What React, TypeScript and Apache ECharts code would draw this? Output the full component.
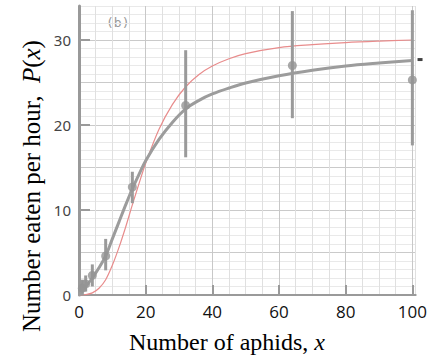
import { useEffect, useRef } from 'react';
import * as echarts from 'echarts';

// Smooth curves (x = number of aphids, y = number eaten per hour)
const curveX = [0, 2, 4, 6, 8, 10, 12, 14, 16, 18, 20, 24, 28, 32, 36, 40, 45, 50, 60, 70, 80, 90, 100];
const fittedCurve = [0, 1.0, 2.0, 3.2, 4.6, 6.6, 8.6, 10.6, 12.5, 14.2, 15.8, 18.3, 20.3, 21.9, 22.9, 23.65, 24.35, 24.95, 25.8, 26.45, 26.95, 27.3, 27.6];
const modelCurve = [0, 0.05, 0.25, 0.8, 1.8, 3.5, 5.6, 8.0, 10.6, 13.1, 15.5, 19.5, 22.4, 24.5, 25.95, 26.95, 27.8, 28.4, 29.1, 29.45, 29.7, 29.87, 30.0];

// Observed points with error bars
const aphidCounts = [1, 2, 4, 8, 16, 32, 64, 100];
const eatenMean = [0.8, 1.3, 2.3, 4.6, 12.7, 22.3, 27.0, 25.3];
const eatenLow = [0.0, 0.4, 1.0, 2.9, 10.8, 16.2, 20.8, 17.6];
const eatenHigh = [1.8, 2.3, 3.6, 6.6, 14.5, 28.8, 33.4, 33.5];

// Arrow tip at the end of the fitted curve
const curveTip = [[102.3, 27.7]];

// Axis ticks and labels
const xTickLabels = [0, 20, 40, 60, 80, 100];
const xTickMarks = [20, 40, 60, 80, 100];
const yTickLabels = [0, 10, 20, 30];
const yTickMarks = [10, 20, 30];

const xTitle = 'Number of aphids, {i|x}';
const yTitle = 'Number eaten per hour,  {i|P}({i|x})';
const panelTag = '(b)';

export default function App() {
  const ref = useRef<HTMLDivElement>(null);

  useEffect(() => {
    if (!ref.current) return;
    const chart = echarts.init(ref.current, null, { renderer: 'svg' });
    const axisGray = '#9a9a9a';
    const X_MIN = 0, X_MAX = 101, Y_MIN = 0, Y_MAX = 34;
    const serif = 'Liberation Serif';
    const option: any = {
      animation: false,
      grid: { left: 79, right: 26.3, top: 6, bottom: 68, containLabel: false },
      graphic: [
        {
          type: 'text',
          left: 106,
          top: 16,
          style: { text: panelTag, fill: '#9a9a9a', font: '13px "DejaVu Sans Mono"' },
        },
        {
          type: 'text',
          x: 227,
          y: 342,
          style: {
            text: xTitle,
            fill: '#000',
            font: `24px "${serif}"`,
            align: 'center',
            verticalAlign: 'middle',
            rich: { i: { fontStyle: 'italic', fontFamily: serif, fontSize: 24, fill: '#000' } },
          },
        },
        {
          type: 'text',
          x: 31,
          y: 186,
          rotation: Math.PI / 2,
          style: {
            text: yTitle,
            fill: '#000',
            font: `25px "${serif}"`,
            align: 'center',
            verticalAlign: 'middle',
            rich: { i: { fontStyle: 'italic', fontFamily: serif, fontSize: 25, fill: '#000' } },
          },
        },
      ],
      xAxis: [
        {
          // graph-paper grid
          type: 'value',
          min: X_MIN,
          max: X_MAX,
          interval: 5,
          position: 'bottom',
          axisLine: { show: false },
          axisTick: { show: false },
          axisLabel: { show: false },
          splitLine: {
            show: true,
            lineStyle: { color: ['#c8c8c8', '#e0e0e0', '#e0e0e0', '#e0e0e0'], width: 1 },
          },
        },
        {
          type: 'value',
          min: X_MIN,
          max: X_MAX,
          interval: 20,
          position: 'bottom',
          axisLine: { show: true, onZero: false, lineStyle: { color: axisGray, width: 2 } },
          axisTick: {
            show: true,
            inside: true,
            length: 10,
            customValues: xTickMarks,
            lineStyle: { color: axisGray, width: 2 },
          },
          axisLabel: {
            customValues: xTickLabels,
            fontFamily: 'Open Sans',
            fontSize: 17,
            color: '#111',
            margin: 8,
          },
          splitLine: { show: false },
        },
      ],
      yAxis: [
        {
          type: 'value',
          min: Y_MIN,
          max: Y_MAX,
          interval: 1,
          position: 'left',
          axisLine: { show: false },
          axisTick: { show: false },
          axisLabel: { show: false },
          splitLine: {
            show: true,
            lineStyle: { color: ['#cacaca', '#e9e9e9', '#e9e9e9', '#e9e9e9', '#e9e9e9'], width: 1 },
          },
        },
        {
          type: 'value',
          min: Y_MIN,
          max: Y_MAX,
          interval: 10,
          position: 'left',
          axisLine: { show: true, onZero: false, lineStyle: { color: '#999', width: 3 } },
          axisTick: {
            show: true,
            inside: true,
            length: 11,
            customValues: yTickMarks,
            lineStyle: { color: axisGray, width: 2 },
          },
          axisLabel: {
            customValues: yTickLabels,
            fontFamily: 'Noto Sans',
            fontSize: 15,
            color: '#444',
            margin: 8,
          },
          splitLine: { show: false },
        },
      ],
      series: [
        {
          type: 'line',
          xAxisIndex: 0,
          yAxisIndex: 0,
          data: curveX.map((x, i) => [x, modelCurve[i]]),
          smooth: 0.35,
          showSymbol: false,
          lineStyle: { color: '#e88c8c', width: 1.2 },
          z: 2,
        },
        {
          type: 'line',
          xAxisIndex: 0,
          yAxisIndex: 0,
          data: curveX.map((x, i) => [x, fittedCurve[i]]),
          smooth: 0.35,
          showSymbol: false,
          lineStyle: { color: '#9c9c9c', width: 3 },
          z: 3,
        },
        {
          type: 'custom',
          xAxisIndex: 0,
          yAxisIndex: 0,
          data: aphidCounts.map((x, i) => [x, eatenLow[i], eatenHigh[i]]),
          encode: { x: 0, y: [1, 2] },
          renderItem: (_params: any, api: any) => {
            const x = api.value(0);
            const p1 = api.coord([x, api.value(1)]);
            const p2 = api.coord([x, api.value(2)]);
            return {
              type: 'line',
              shape: { x1: p1[0], y1: p1[1], x2: p2[0], y2: p2[1] },
              style: { stroke: '#9a9a9a', lineWidth: 3 },
            };
          },
          z: 4,
        },
        {
          type: 'scatter',
          xAxisIndex: 0,
          yAxisIndex: 0,
          data: aphidCounts.map((x, i) => [x, eatenMean[i]]),
          symbol: 'circle',
          symbolSize: 9,
          itemStyle: { color: '#949494' },
          z: 5,
        },
        {
          type: 'scatter',
          xAxisIndex: 0,
          yAxisIndex: 0,
          data: curveTip,
          symbol: 'rect',
          symbolSize: [5, 3],
          clip: false,
          itemStyle: { color: '#111' },
          z: 5,
        },
      ],
    };
    chart.setOption(option);
    return () => chart.dispose();
  }, []);

  return (
    <div
      ref={ref}
      style={{ position: 'absolute', left: 0, top: 0, width: 442, height: 363, background: '#fff' }}
    />
  );
}
